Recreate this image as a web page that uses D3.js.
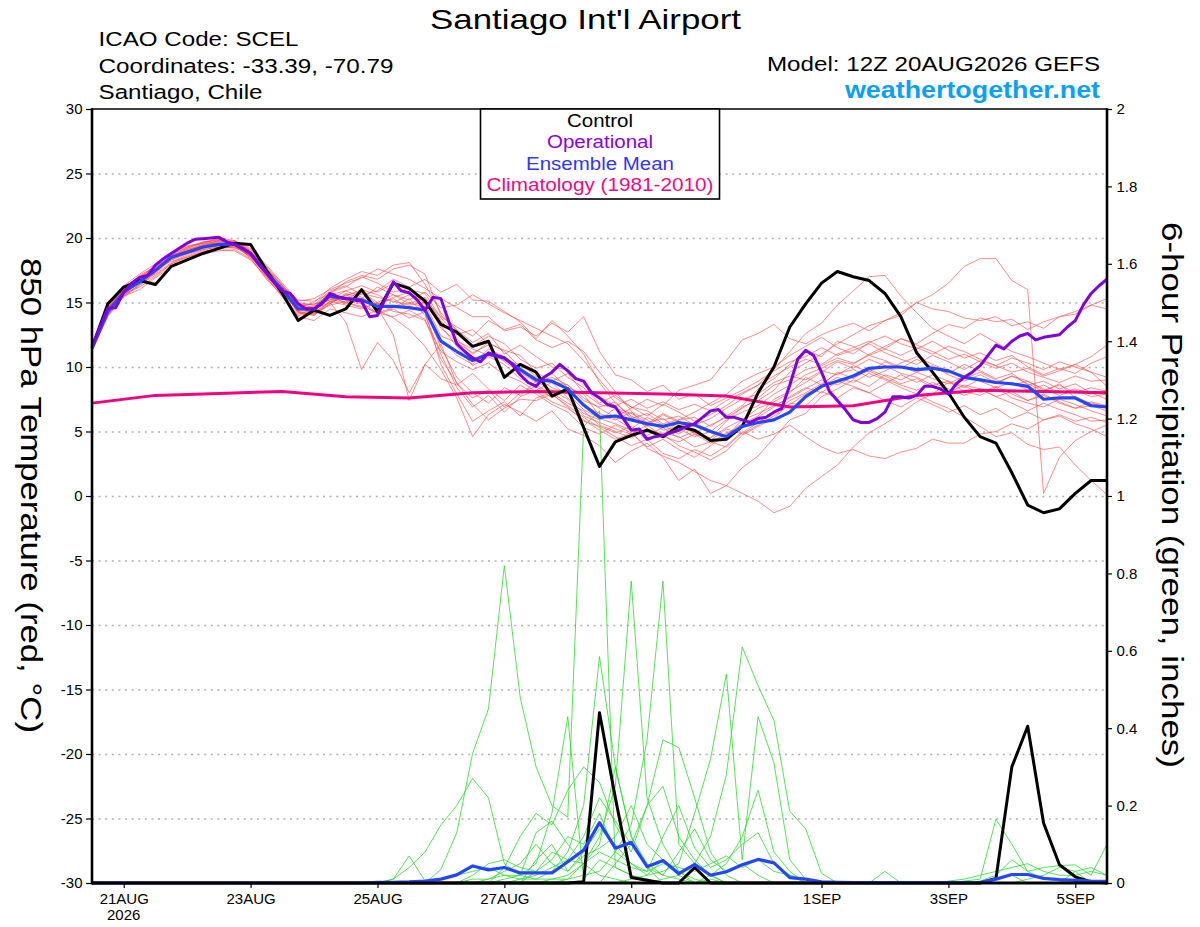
<!DOCTYPE html>
<html>
<head>
<meta charset="utf-8">
<script src="https://cdn.jsdelivr.net/npm/d3@7"></script>
<style>
    body { margin: 0; background: #fff; }
    svg { display: block; font-family: "Liberation Sans", Arial, Helvetica, sans-serif; }
</style>
</head>
<body>
<svg id="chart" width="1200" height="927"></svg>
<script>
// GEFS run 12Z 20AUG2026, 6-hourly out to 384 h (65 steps)
const RUN = Date.UTC(2026, 7, 20, 12);
const HOUR = 3600 * 1000;

const controlTemp = [11.5,14.9,16.2,16.7,16.4,17.8,18.3,18.8,19.2,19.6,19.5,17.5,15.7,13.6,14.4,14.0,14.5,16.0,14.3,16.5,16.1,
    15.1,13.3,12.7,11.6,12.0,9.2,10.2,9.6,7.75,8.3,5.3,2.3,4.2,4.7,5.1,4.6,5.4,5.1,4.3,4.4,
    5.4,8.0,10.0,13.1,14.9,16.5,17.4,17.0,16.7,15.7,13.9,11.1,9.6,8.0,6.1,4.6,4.1,1.8,-0.7,-1.3,-1.0,0.2,1.2,1.2];

// operational run is 3-hourly (129 steps)
const operationalTemp = [11.6,13.1,14.55,14.6,15.8,16.5,16.95,17.1,17.9,18.4,18.8,19.2,19.6,19.9,19.95,20.0,20.05,19.7,19.5,19.2,
    18.8,18.0,17.3,16.5,15.9,15.7,14.9,14.5,14.5,14.9,15.7,15.45,15.3,15.2,15.1,13.9,14.0,15.3,16.6,15.9,
    15.75,15.2,14.4,15.4,15.3,13.5,11.8,11.2,10.7,10.4,11.1,10.9,10.7,10.2,9.4,8.8,8.5,9.2,9.6,10.2,
    9.7,9.1,8.9,8.0,7.6,7.1,6.9,6.0,5.1,5.2,4.4,4.6,4.7,4.9,5.1,5.4,5.6,6.1,6.6,6.7,
    6.1,6.1,5.9,5.7,6.0,6.1,6.5,6.8,8.6,10.6,11.3,10.9,9.6,8.1,7.4,6.7,5.9,5.7,5.7,6.0,
    6.5,7.7,7.7,7.6,7.8,8.5,8.5,8.3,7.9,8.7,9.2,9.6,10.1,10.9,11.7,11.4,12.0,12.4,12.6,12.1,
    12.3,12.4,12.5,13.1,13.6,14.8,15.7,16.3,16.8];

const ensMeanTemp = [11.45,14.3,15.8,16.6,17.5,18.5,18.9,19.3,19.5,19.5,18.8,17.3,16.0,14.5,14.5,15.5,15.3,15.2,14.7,14.7,14.6,
    14.4,12.0,11.2,10.5,11.0,10.7,9.8,9.0,8.9,8.3,7.05,6.1,6.2,5.9,5.6,5.4,5.7,5.5,5.0,4.6,
    5.4,5.7,5.9,6.5,7.7,8.5,8.9,9.3,9.9,10.0,10.0,9.8,9.9,9.7,9.2,9.0,8.8,8.7,8.5,7.5,7.6,7.6,7.0,6.9];

// daily climatology 1981-2010, from 20AUG 12Z
const climatology = [7.2,7.8,7.95,8.1,7.7,7.6,8.0,8.1,8.0,7.9,7.75,6.9,7.0,7.8,8.2,8.1,8.0];

// 850 hPa temperature, ensemble members
const mem01 = [11.6,14.8,16.0,17.1,17.8,18.9,19.4,19.6,19.9,19.6,18.4,16.8,15.6, 14.9,14.6,15.8,16.2,17.0,16.5,15.8,16.1,15.2,13.9,13.1,12.4,13.6, 12.9,13.3,12.1,11.5,12.0,11.2,9.6,8.1,6.6,5.2,4.7,5.9,6.1, 5.4,6.2,7.0,8.3,9.1,10.2,11.3,10.8,12.0,11.6,10.9,11.4,12.2, 11.8,12.6,13.3,13.0,13.8,13.5,13.7,12.9,13.5,13.9,14.3,14.8,15.3];
const mem02 = [11.3,14.0,15.5,16.8,17.2,18.1,18.7,19.1,19.3,19.2,18.9,17.6,16.3, 14.8,14.1,14.9,15.6,15.0,14.2,14.6,15.3,14.0,11.0,8.4,6.9,7.8, 6.5,7.7,8.2,8.8,7.6,6.4,5.9,6.8,6.1,5.4,6.3,5.7,4.9, 4.5,5.8,6.9,7.4,8.2,9.6,10.3,11.0,11.8,12.5,13.2,13.6,14.2, 15.0,15.6,16.5,17.8,18.4,18.4,16.7,16.0,0.2,3.0,4.3,5.0,5.5];
const mem03 = [11.4,14.6,16.1,16.9,17.6,18.2,18.5,18.9,19.2,19.3,18.6,17.0,15.4, 14.0,14.2,15.0,13.5,9.8,11.9,10.5,8.0,10.2,9.1,8.6,9.5,8.3, 7.4,8.6,7.9,7.1,6.5,5.3,4.8,5.5,4.9,3.8,4.4,3.6,3.0, 3.9,4.8,5.6,6.2,7.5,8.1,8.8,9.6,10.4,9.9,10.6,10.1,9.5, 9.2,8.6,8.9,8.1,7.8,8.4,7.6,7.2,6.9,7.5,7.1,6.6,6.2];
const mem04 = [11.5,14.1,15.6,16.3,17.3,18.4,19.0,19.4,19.8,19.6,18.7,17.5,16.2, 14.7,14.9,15.2,15.9,15.4,14.6,12.5,7.4,10.2,11.8,8.7,7.6,8.2, 6.9,8.0,8.5,7.6,8.3,7.0,6.4,6.0,5.2,6.1,5.5,4.8,5.6, 5.1,4.6,5.9,6.8,7.3,8.0,9.2,8.6,9.6,9.1,9.8,9.3,8.7, 9.1,8.4,8.0,8.6,8.3,7.7,8.1,7.4,7.8,7.2,6.8,7.3,7.0];
const mem05 = [11.6,14.4,15.9,16.5,17.4,18.6,19.1,19.5,19.6,19.4,18.5,17.1,15.8, 14.3,14.0,15.1,14.8,14.5,15.0,14.3,14.1,13.6,11.2,10.4,9.8,10.3, 9.4,8.9,8.1,7.3,6.8,5.9,5.1,4.4,4.9,3.7,3.1,2.6,1.9, 1.2,0.8,0.2,-0.4,-1.3,-0.8,0.6,1.5,2.4,3.8,4.9,5.6,6.4, 7.3,7.9,8.8,8.4,9.1,8.7,9.3,8.9,8.2,8.6,8.0,8.4,8.1];
const mem06 = [11.7,14.5,16.2,16.8,17.9,18.8,19.2,19.7,19.8,19.7,19.1,17.8,16.4, 14.6,15.0,16.1,16.8,17.4,17.1,17.9,18.1,16.4,14.2,12.8,11.6,12.4, 11.8,10.6,9.9,10.3,9.2,8.4,7.2,7.8,6.9,6.2,7.1,6.5,5.8, 6.3,7.0,7.9,8.6,9.8,11.2,12.6,13.4,14.8,15.9,17.0,17.1,15.5, 14.2,13.0,12.4,11.8,12.6,11.9,11.2,10.8,10.3,9.8,10.2,9.6,8.5];
const mem07 = [11.4,14.2,15.4,16.4,17.1,18.0,18.6,19.0,19.1,19.0,18.3,17.0,15.9, 14.2,14.4,15.3,14.9,15.7,15.4,15.1,14.8,15.0,13.2,11.6,10.1,10.8, 10.2,9.1,8.6,7.9,7.0,6.1,5.3,4.6,3.9,4.4,3.3,2.9,3.6, 3.1,3.9,5.0,4.4,4.8,5.5,4.6,3.8,3.3,3.6,3.1,2.9,3.4, 3.7,4.4,4.1,4.1,4.8,5.0,5.6,5.2,5.9,6.3,5.8,6.1,5.7];
const mem08 = [11.5,14.7,16.3,17.2,18.0,18.9,19.3,19.6,20.0,19.8,19.2,17.9,16.5, 15.1,15.3,16.0,16.5,16.9,17.6,17.2,16.8,16.1,15.3,14.6,13.9,13.9, 12.8,13.1,12.4,13.4,12.7,13.9,11.2,9.4,9.0,8.1,8.6,7.5,7.9, 7.0,7.6,8.2,8.9,9.7,10.4,10.8,11.5,10.9,11.3,11.8,11.1,10.6, 10.2,10.9,10.4,9.8,10.5,10.1,9.6,9.9,9.3,9.7,10.2,10.8,11.7];
const mem09 = [11.3,13.9,15.5,16.0,16.9,17.8,18.3,18.8,19.0,19.1,18.4,16.9,15.5, 13.9,13.6,14.5,14.2,13.9,14.4,13.8,12.9,11.6,9.8,7.6,4.6,6.3, 7.1,6.5,5.8,6.6,5.2,4.7,3.9,2.6,3.5,4.1,3.0,1.2,2.1, 0.2,0.8,2.2,3.1,4.5,5.9,6.4,7.7,8.3,9.0,8.5,9.4,9.0, 9.6,9.1,8.7,9.3,8.9,8.4,8.8,8.2,8.6,8.0,8.3,7.9,8.2];
const mem10 = [11.6,14.3,15.9,16.7,17.7,18.6,19.1,19.4,19.7,19.8,19.0,17.6,16.3, 15.0,14.8,15.6,15.9,16.3,15.8,16.5,16.0,15.7,13.8,12.5,12.9,11.8, 11.3,10.9,9.6,8.9,9.5,8.0,7.1,6.8,6.4,5.7,6.0,5.2,4.6, 5.0,5.9,6.5,7.0,7.9,8.6,9.4,9.9,10.5,10.2,11.0,11.6,12.2, 11.7,11.2,10.6,11.0,10.4,9.9,10.3,9.6,9.2,8.8,9.3,8.9,9.0];
const mem11 = [11.5,14.0,15.7,16.6,17.5,18.3,18.8,19.2,19.4,19.6,18.9,17.4,15.9, 14.4,14.7,15.4,15.2,15.9,14.8,15.4,15.8,14.9,12.4,11.9,11.1,11.7, 10.4,9.6,8.8,9.2,8.6,7.6,6.8,6.1,6.8,7.5,7.0,8.2,8.6, 9.0,10.5,12.1,12.6,13.3,12.2,11.8,12.5,13.0,13.4,12.8,13.6,14.0, 15.0,14.5,14.3,13.8,13.6,13.9,13.2,13.5,13.0,13.9,14.1,14.8,14.5];
const mem12 = [11.4,14.5,16.0,16.9,17.6,18.7,19.0,19.3,19.5,19.3,18.6,17.2,16.1, 14.6,14.3,15.5,15.0,14.6,14.9,15.3,14.5,14.7,12.1,10.9,10.2,11.4, 10.8,9.8,9.2,8.4,7.9,6.7,6.0,5.6,5.1,4.7,5.3,4.5,5.0, 4.3,5.2,4.8,5.5,6.2,7.1,7.9,8.5,9.2,8.8,9.5,9.0,8.4, 7.9,7.3,6.8,6.1,5.4,4.6,4.9,4.0,3.6,3.8,2.4,1.2,0.1];
const mem13 = [11.5,14.6,16.2,17.0,17.8,18.6,19.2,19.6,19.7,19.5,18.7,17.3,15.7, 14.4,14.5,15.0,15.7,15.3,16.2,15.6,15.2,15.8,14.6,14.8,15.6,14.9, 14.2,13.6,13.0,12.4,11.8,10.5,9.0,7.6,6.9,6.6,5.9,6.2,5.5, 6.0,6.8,7.5,7.9,8.8,9.3,9.0,9.7,9.4,10.1,9.6,10.4,9.9, 10.6,10.0,9.5,10.2,9.7,9.1,9.5,8.6,8.9,8.3,8.7,8.0,7.5];
const mem14 = [11.3,14.2,15.6,16.2,17.0,18.0,18.5,18.9,19.2,19.3,18.7,17.2,15.9, 14.3,14.1,14.8,15.1,14.9,14.1,14.5,13.8,14.3,10.2,7.9,5.8,6.6, 7.3,6.2,7.6,8.0,7.2,6.6,5.5,5.0,4.5,5.2,4.8,3.9,3.4, 2.8,3.5,4.7,5.4,6.0,7.2,7.0,8.1,7.6,8.4,8.0,7.4,6.9, 7.6,7.1,6.5,7.0,6.3,6.8,6.0,6.5,5.9,6.2,5.6,5.2,4.6];
const mem15 = [11.6,14.4,15.8,16.8,17.6,18.5,19.0,19.5,19.8,19.6,18.9,17.5,16.2, 14.7,14.6,15.2,15.5,16.0,15.6,15.0,15.6,15.3,13.0,12.0,11.4,10.9, 10.5,10.2,9.3,8.9,8.6,7.4,6.9,7.3,6.0,6.4,5.6,5.9,6.5, 7.2,7.9,8.9,9.5,10.0,10.9,11.6,12.3,11.5,11.0,11.9,12.4,11.8, 11.4,12.0,11.3,10.7,11.1,10.5,10.9,10.0,9.4,9.9,9.5,10.3,10.8];
const mem16 = [11.5,14.1,15.5,16.4,17.3,18.3,18.8,19.1,19.3,19.4,18.6,17.1,15.6, 14.1,14.3,15.4,15.0,14.7,14.2,13.9,14.4,13.7,10.6,8.8,7.1,5.9, 6.8,7.5,7.4,7.9,6.9,5.8,5.4,4.9,5.4,4.3,4.9,4.6,3.8, 4.2,3.8,4.9,5.7,6.5,7.4,8.0,8.7,9.5,9.8,9.2,9.7,10.3, 10.8,10.2,9.7,9.1,9.6,9.0,8.6,8.9,8.3,7.8,8.2,7.7,7.9];
const mem17 = [11.4,14.5,16.0,16.6,17.4,18.4,18.9,19.4,19.6,19.5,18.8,17.4,16.1, 14.9,14.8,15.9,16.3,15.6,15.9,16.8,16.2,16.8,15.8,16.4,15.2,15.1, 14.3,13.5,12.2,13.6,12.4,11.0,8.8,7.2,6.2,5.6,6.4,5.8,4.8, 4.1,4.9,5.3,6.1,6.9,7.7,8.4,8.0,8.9,8.5,8.0,8.7,9.4, 8.8,9.4,8.9,8.5,8.0,8.5,7.9,7.4,7.9,7.3,6.8,7.0,6.6];
const mem18 = [11.6,14.6,16.1,17.0,17.7,18.7,19.3,19.7,19.9,19.7,19.0,17.7,16.3, 15.2,15.1,15.7,16.6,17.1,16.8,17.6,17.9,17.2,14.0,12.9,11.9,12.6, 11.0,11.7,10.8,10.0,9.8,8.6,7.7,7.0,7.5,6.8,7.3,6.7,7.1, 6.6,7.4,8.0,8.6,9.3,10.0,10.6,10.2,11.0,11.5,12.0,11.4,10.9, 11.5,11.0,11.6,11.2,10.6,10.1,10.7,10.3,9.8,10.4,10.0,9.6,9.2];
const mem19 = [11.5,14.4,15.7,16.5,17.4,18.4,18.8,19.2,19.4,19.5,18.7,17.1,15.8, 14.5,14.2,15.1,15.4,15.2,14.9,14.6,15.0,14.6,11.5,9.2,8.0,7.2, 8.4,7.8,8.9,8.2,7.5,6.2,5.7,5.2,4.8,5.5,4.6,4.2,4.8, 4.5,5.3,5.9,6.4,7.0,7.6,8.3,9.0,8.6,9.3,9.7,9.1,8.6, 8.2,8.8,8.3,7.8,8.3,7.7,7.2,6.6,7.2,6.7,6.3,5.8,5.9];
const mem20 = [11.4,14.3,15.9,16.7,17.5,18.5,19.0,19.3,19.5,19.4,18.6,17.3,16.0, 14.2,14.0,14.9,15.6,15.8,15.0,15.6,14.9,15.4,13.6,12.2,11.0,11.9, 11.2,10.0,9.0,9.5,8.4,7.9,6.2,5.9,6.5,5.9,5.1,5.4,4.9, 5.5,6.1,6.8,7.6,8.6,9.0,9.8,10.1,10.7,10.3,10.9,10.5,10.0, 9.6,10.1,9.4,8.9,9.4,8.8,9.3,8.7,8.1,8.7,7.6,7.2,6.9];
const tempMembers = [mem01,mem02,mem03,mem04,mem05,mem06,mem07,mem08,mem09,mem10,
    mem11,mem12,mem13,mem14,mem15,mem16,mem17,mem18,mem19,mem20];

// 6-hour precipitation (inches)
const controlPrecip = [0,0,0,0,0,0,0,0,0,0,0,0,0,0,0,0,0,0,0,0,0,0,0,0,0,0,0,0,0,0,0,
    0.003,0.44,0.22,0.014,0.007,0,0,0.04,0,0,0,0,0,0,0,0,0,0,0,0,0,0,0,0,0,0,0.012,0.30,0.405,0.155,0.047,0.016,0.003,0];
const ensMeanPrecip = [0,0,0,0,0,0,0,0,0,0,0,0,0,0,0,0,0,0,0.002,0.002,0.003,0.005,0.01,0.021,0.044,0.034,0.04,0.026,0.026,0.026,0.055,
    0.085,0.156,0.09,0.105,0.042,0.058,0.024,0.048,0.02,0.029,0.047,0.061,0.052,0.014,0.01,0.003,0.002,0.001,0.001,0.001,0.001,0.001,0.001,0.001,0.001,0.001,
    0.01,0.022,0.022,0.012,0.009,0.007,0.005,0.004];

// members are all dry before 25AUG 06Z, so these start at step 18
const PRECIP_START = 18;
const pmem01 = [0,0,0,0,0.035,0.13,0.335,0.45,0.82,0.48, 0.30,0.2,0.17,1.18,1.22,0.04,0.02,0.01,0,0, 0,0.01,0,0,0,0,0,0,0,0, 0,0,0,0,0,0,0,0,0,0, 0,0,0,0,0,0,0];
const pmem02 = [0,0.01,0.04,0.08,0.15,0.2,0.27,0.22,0.05,0.02, 0.13,0.16,0.1,0.05,0.02,0.01,0,0,0,0, 0,0,0,0,0,0,0,0,0,0, 0,0,0,0,0,0,0,0,0,0, 0,0,0,0,0,0,0];
const pmem03 = [0,0,0,0,0,0,0,0,0,0.01, 0.01,0.01,0.02,0.05,0.12,0.25,0.78,0.22,0.1,0.03, 0.01,0,0,0,0,0,0,0,0,0, 0,0,0,0,0,0,0,0,0,0, 0,0,0,0,0,0,0];
const pmem04 = [0,0,0,0,0,0,0,0,0,0, 0,0.01,0.01,0.02,0.03,0.08,0.15,0.37,0.78,0.1, 0.05,0.02,0,0,0,0,0,0,0,0, 0,0,0,0,0,0,0,0,0,0, 0,0,0,0,0,0,0];
const pmem05 = [0,0,0,0,0,0,0.01,0.01,0.02,0.02, 0.01,0.03,0.08,0.2,0.585,0.3,0.12,0.05,0.02,0.01, 0,0,0,0,0,0,0,0,0,0, 0,0,0,0,0,0,0,0,0,0, 0,0,0,0,0,0,0];
const pmem06 = [0,0,0,0,0,0,0,0,0.01,0.02, 0.05,0.18,0.43,0.01,0.06,0.04,0.02,0,0,0, 0,0,0,0,0,0,0,0,0,0, 0,0,0,0,0,0,0,0,0,0, 0,0,0,0,0,0,0];
const pmem07 = [0,0,0,0,0,0,0,0,0,0, 0,0,0,0,0,0,0,0,0.01,0.02, 0.05,0.12,0.28,0.61,0.51,0.42,0.185,0.14,0.025,0, 0,0,0,0,0,0,0,0,0,0, 0,0,0,0,0,0,0];
const pmem08 = [0,0,0,0,0,0,0,0,0,0, 0,0,0,0,0,0,0.01,0.02,0.03,0.05, 0.18,0.32,0.54,0.06,0.43,0.31,0.06,0.01,0,0, 0,0,0,0,0,0,0,0,0,0, 0,0,0,0,0,0,0];
const pmem09 = [0,0,0,0,0,0,0,0,0,0, 0,0,0,0,0,0.05,0.1,0.2,0.37,0.35, 0.22,0.08,0.02,0,0,0,0,0,0,0, 0,0,0,0,0,0,0,0,0,0, 0,0,0,0,0,0,0];
const pmem10 = [0,0,0,0,0,0,0,0,0.04,0.12, 0.18,0.15,0.24,0.3,0.26,0.15,0.08,0.2,0.25,0.12, 0.06,0.02,0,0,0,0,0,0,0,0, 0,0,0,0,0,0,0,0,0,0, 0,0,0,0,0,0,0];
const pmem11 = [0,0.01,0.07,0.005,0,0,0,0,0,0, 0,0,0,0,0,0,0,0,0,0, 0,0,0,0,0,0,0,0,0,0, 0,0,0,0,0,0,0,0,0,0, 0,0,0,0,0,0,0];
const pmem12 = [0,0,0,0,0,0,0,0,0,0, 0,0,0,0,0,0,0,0,0,0, 0,0,0,0,0,0,0,0,0,0, 0,0,0,0,0,0,0,0.005,0.01,0.165, 0.10,0.03,0.01,0.005,0,0,0];
const pmem13 = [0,0,0,0,0,0,0,0,0,0, 0,0,0,0,0,0,0,0,0,0, 0,0,0,0,0,0,0,0,0,0, 0,0,0,0,0,0,0,0,0.005,0.02, 0.06,0.03,0.04,0.045,0.047,0.02,0.10];
const pmem14 = [0,0,0,0,0,0,0,0,0,0, 0,0,0,0,0,0,0,0,0,0, 0,0.02,0.05,0.12,0.24,0.08,0.03,0,0,0, 0,0,0,0,0,0,0,0,0,0, 0,0,0,0,0,0,0];
const pmem15 = [0,0,0,0,0,0,0,0,0,0, 0.03,0.06,0.12,0.1,0.18,0.08,0.05,0.02,0.06,0.03, 0,0,0,0,0,0,0,0,0,0, 0,0,0.03,0,0,0,0,0,0,0.01, 0.02,0,0,0,0.03,0.04,0.02];
const pmem16 = [0,0,0,0,0,0,0.02,0.05,0.06,0.04, 0.03,0.08,0.06,0.12,0.22,0.16,0.1,0.04,0.02,0.08, 0.14,0.06,0.03,0.05,0.02,0,0,0,0,0, 0,0,0,0,0,0,0,0,0,0, 0,0.01,0.02,0.04,0.03,0,0];
const pmem17 = [0,0,0,0,0,0,0,0.01,0.03,0.05, 0.1,0.05,0.03,0.07,0.09,0.12,0.2,0.1,0.06,0.02, 0,0,0,0,0,0,0,0,0,0, 0,0,0,0,0,0,0,0,0,0, 0,0,0,0,0,0,0];
const pmem18 = [0,0,0,0,0,0,0,0,0,0, 0,0,0.01,0.05,0.1,0.3,0.12,0.04,0,0, 0,0,0,0,0,0,0,0,0,0, 0,0,0,0,0,0,0,0,0,0, 0,0,0,0,0,0,0];
const pmem19 = [0,0,0,0.005,0.01,0.02,0.03,0.04,0.02,0.01, 0.02,0.04,0.06,0.05,0.08,0.06,0.04,0.03,0.05,0.04, 0.03,0.05,0.07,0.04,0.06,0.03,0.02,0.01,0,0, 0,0,0,0,0,0,0.005,0.01,0.02,0.03, 0.04,0.05,0.03,0.02,0.02,0.03,0.02];
const pmem20 = [0,0,0,0,0,0,0,0,0,0, 0.06,0.1,0.03,0.08,0.14,0.1,0.05,0.03,0.12,0.2, 0.09,0.04,0.06,0.1,0.13,0.05,0.02,0,0,0, 0,0,0,0,0,0,0,0,0,0, 0,0,0,0,0,0,0];
const precipMembers = [pmem01,pmem02,pmem03,pmem04,pmem05,pmem06,pmem07,pmem08,pmem09,pmem10,
    pmem11,pmem12,pmem13,pmem14,pmem15,pmem16,pmem17,pmem18,pmem19,pmem20];

// axis ticks
const tickDays = ['2026-08-21','2026-08-23','2026-08-25','2026-08-27','2026-08-29','2026-09-01','2026-09-03','2026-09-05'];
const tickLabels = ['21AUG','23AUG','25AUG','27AUG','29AUG','1SEP','3SEP','5SEP'];
const tempTicks = [-30,-25,-20,-15,-10,-5,0,5,10,15,20,25,30];
const gridTicks = [-25,-20,-15,-10,-5,0,5,10,15,20,25];
const precipTicks = [0,0.2,0.4,0.6,0.8,1,1.2,1.4,1.6,1.8,2];
const precipTickLabels = ['0','0.2','0.4','0.6','0.8','1','1.2','1.4','1.6','1.8','2'];

const COLORS = {
    member: '#ff4a4a',
    precip: '#2ed82e',
    control: '#000000',
    operational: '#8000dc',
    mean: '#2546ff',
    clim: '#f0047f'
};

const plot = { left: 92, right: 1107, top: 109, bottom: 883 };

const svg = d3.select('#chart');
svg.append('rect').attr('width', 1200).attr('height', 927).attr('fill', '#fff');

const x = d3.scaleUtc()
    .domain([new Date(RUN), new Date(RUN + 384 * HOUR)])
    .range([plot.left, plot.right]);
const yT = d3.scaleLinear().domain([-30, 30]).range([plot.bottom, plot.top]);
const yP = d3.scaleLinear().domain([0, 2]).range([plot.bottom, plot.top]);

const at = (i, stepHours) => new Date(RUN + i * stepHours * HOUR);

// dotted grid on the temperature axis
svg.append('g')
    .attr('transform', `translate(${plot.left},0)`)
    .call(d3.axisLeft(yT).tickValues(gridTicks).tickSize(-(plot.right - plot.left)).tickFormat(''))
    .call(g => g.select('.domain').remove())
    .selectAll('line')
    .attr('stroke', '#b0b0b0')
    .attr('stroke-width', 1.6)
    .attr('stroke-dasharray', '2,4.6');

function tempPath(stepHours, offset = 0) {
    return d3.line()
        .x((d, i) => x(at(i + offset, stepHours)))
        .y(d => yT(d));
}
function precipPath(offset = 0) {
    return d3.line()
        .x((d, i) => x(at(i + offset, 6)))
        .y(d => yP(d));
}

const lines = svg.append('g').attr('fill', 'none').attr('stroke-linejoin', 'round');

tempMembers.forEach(m => {
    lines.append('path')
        .datum(m)
        .attr('stroke', COLORS.member)
        .attr('stroke-opacity', 0.8)
        .attr('stroke-width', 0.8)
        .attr('d', tempPath(6));
});

precipMembers.forEach(m => {
    lines.append('path')
        .datum(m)
        .attr('stroke', COLORS.precip)
        .attr('stroke-width', 0.8)
        .attr('d', precipPath(PRECIP_START));
});

// climatology is daily
lines.append('path')
    .datum(climatology)
    .attr('stroke', COLORS.clim)
    .attr('stroke-width', 3)
    .attr('d', tempPath(24));

lines.append('path')
    .datum(controlTemp)
    .attr('stroke', COLORS.control)
    .attr('stroke-width', 3)
    .attr('d', tempPath(6));

lines.append('path')
    .datum(controlPrecip)
    .attr('stroke', COLORS.control)
    .attr('stroke-width', 3)
    .attr('d', precipPath());

lines.append('path')
    .datum(ensMeanTemp)
    .attr('stroke', COLORS.mean)
    .attr('stroke-width', 3.2)
    .attr('d', tempPath(6));

lines.append('path')
    .datum(ensMeanPrecip)
    .attr('stroke', COLORS.mean)
    .attr('stroke-width', 3.2)
    .attr('d', precipPath());

lines.append('path')
    .datum(operationalTemp)
    .attr('stroke', COLORS.operational)
    .attr('stroke-width', 3)
    .attr('d', tempPath(3));

// axes
const leftAxis = svg.append('g')
    .attr('transform', `translate(${plot.left},0)`)
    .call(d3.axisLeft(yT).tickValues(tempTicks).tickSize(6).tickPadding(3.5).tickFormat(d => String(d)));
const rightAxis = svg.append('g')
    .attr('transform', `translate(${plot.right},0)`)
    .call(d3.axisRight(yP).tickValues(precipTicks).tickSize(5).tickPadding(4.5)
        .tickFormat((d, i) => precipTickLabels[i]));
const bottomAxis = svg.append('g')
    .attr('transform', `translate(0,${plot.bottom})`)
    .call(d3.axisBottom(x).tickValues(tickDays.map(s => new Date(s + 'T00:00:00Z')))
        .tickSize(5).tickPadding(5.3).tickFormat((d, i) => tickLabels[i]));

[leftAxis, rightAxis, bottomAxis].forEach(g => {
    g.select('.domain').remove();
    g.selectAll('line').attr('stroke', '#000').attr('stroke-width', 1.2);
    g.selectAll('text')
        .attr('font-family', '"Liberation Sans", Arial, sans-serif')
        .attr('font-size', 15)
        .attr('fill', '#000');
});

svg.append('text')
    .attr('x', x(new Date('2026-08-21T00:00:00Z')))
    .attr('y', 920)
    .attr('text-anchor', 'middle')
    .attr('font-size', 15)
    .text('2026');

// frame
const frame = svg.append('g').attr('stroke', '#000').attr('fill', 'none');
frame.append('line').attr('x1', plot.left).attr('x2', plot.right).attr('y1', plot.top).attr('y2', plot.top).attr('stroke-width', 1.6);
frame.append('line').attr('x1', plot.left).attr('x2', plot.right).attr('y1', plot.bottom).attr('y2', plot.bottom).attr('stroke-width', 2.8);
frame.append('line').attr('x1', plot.left).attr('x2', plot.left).attr('y1', plot.top - 0.8).attr('y2', plot.bottom + 1.4).attr('stroke-width', 2.6);
frame.append('line').attr('x1', plot.right).attr('x2', plot.right).attr('y1', plot.top - 0.8).attr('y2', plot.bottom + 1.4).attr('stroke-width', 2.6);

// legend box
const legend = svg.append('g');
legend.append('rect')
    .attr('x', 480.5).attr('y', plot.top)
    .attr('width', 239).attr('height', 90)
    .attr('fill', '#fff').attr('stroke', '#000').attr('stroke-width', 1.6);
const legendItems = [
    { text: 'Control', color: '#000', y: 126.5, w: 66 },
    { text: 'Operational', color: '#8a00dc', y: 148, w: 106 },
    { text: 'Ensemble Mean', color: '#3434ff', y: 169.5, w: 148 },
    { text: 'Climatology (1981-2010)', color: '#ee0a86', y: 191, w: 227 }
];
legendItems.forEach(item => {
    legend.append('text')
        .attr('x', 600).attr('y', item.y)
        .attr('text-anchor', 'middle')
        .attr('font-size', 17.5)
        .attr('fill', item.color)
        .attr('textLength', item.w)
        .attr('lengthAdjust', 'spacingAndGlyphs')
        .text(item.text);
});

// header texts
function label(txt, xPos, yPos, size, width, anchor, extra) {
    const t = svg.append('text')
        .attr('x', xPos).attr('y', yPos)
        .attr('font-size', size)
        .attr('text-anchor', anchor)
        .attr('textLength', width)
        .attr('lengthAdjust', 'spacingAndGlyphs')
        .text(txt);
    if (extra) extra(t);
    return t;
}
label("Santiago Int'l Airport", 585.5, 28.5, 28, 311, 'middle');
label('ICAO Code: SCEL', 98.5, 45.7, 20.5, 200, 'start');
label('Coordinates: -33.39, -70.79', 98.5, 72.7, 20.5, 295, 'start');
label('Santiago, Chile', 98.5, 99.3, 20.5, 164, 'start');
label('Model: 12Z 20AUG2026 GEFS', 1100, 71, 20.5, 333, 'end');
label('weathertogether.net', 1100, 98, 24, 255, 'end',
    t => t.attr('font-weight', 'bold').attr('fill', '#0aa0f8'));

// axis titles, both read top to bottom
label('850 hPa Temperature (red, \u00B0C)', 0, 0, 29, 475, 'middle',
    t => t.attr('transform', 'translate(21,495.5) rotate(90)'));
label('6-hour Precipitation (green, inches)', 0, 0, 29, 546, 'middle',
    t => t.attr('transform', 'translate(1162,495) rotate(90)'));
</script>
</body>
</html>
